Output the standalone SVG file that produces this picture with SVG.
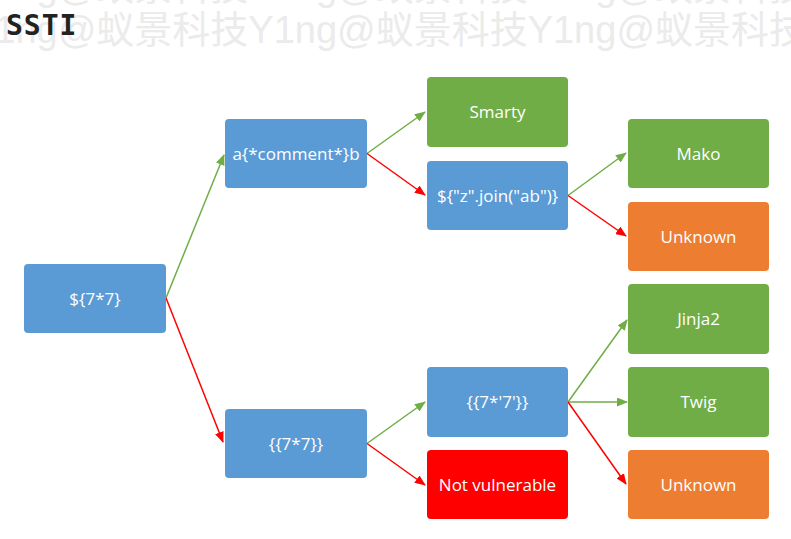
<svg xmlns="http://www.w3.org/2000/svg" width="791" height="539" viewBox="0 0 791 539">
<style>
.wm{font-family:"Liberation Sans","Noto Sans CJK SC",sans-serif;font-size:38px;fill:#ebebeb}
.title{font-family:"DejaVu Sans Mono",monospace;font-weight:bold;font-size:28px;fill:#222;letter-spacing:1px}
.box{stroke:none}
.blue{fill:#5B9BD5}
.green{fill:#70AD47}
.orange{fill:#ED7D31}
.red{fill:#FF0000}
.lbl{font-family:"Open Sans",sans-serif;font-size:17px;fill:#fff;text-anchor:middle}
.cg{stroke:#70AD47;stroke-width:1.5;fill:none;marker-end:url(#ag)}
.cr{stroke:#FF0000;stroke-width:1.5;fill:none;marker-end:url(#ar)}
</style>
<defs>
<marker id="ag" markerUnits="userSpaceOnUse" markerWidth="11" markerHeight="9" refX="10" refY="4.5" orient="auto"><path d="M0,0 L11,4.5 L0,9 z" fill="#70AD47"/></marker>
<marker id="ar" markerUnits="userSpaceOnUse" markerWidth="11" markerHeight="9" refX="10" refY="4.5" orient="auto"><path d="M0,0 L11,4.5 L0,9 z" fill="#FF0000"/></marker>
</defs>
<rect width="791" height="539" fill="#fff"/>
<g id="watermark">
<text class="wm" x="-31" y="0">Y1ng@蚁景科技Y1ng@蚁景科技Y1ng@蚁景科技</text>
<text class="wm" x="-31" y="43">Y1ng@蚁景科技Y1ng@蚁景科技Y1ng@蚁景科技</text>
</g>
<text class="title" x="6" y="35">SSTI</text>
<g id="connectors">
<line class="cg" x1="166" y1="298" x2="224" y2="155"/>
<line class="cr" x1="166" y1="298" x2="223" y2="442"/>
<line class="cg" x1="367" y1="153.5" x2="425" y2="112"/>
<line class="cr" x1="367" y1="153.5" x2="425" y2="195"/>
<line class="cg" x1="568" y1="195.5" x2="626" y2="153"/>
<line class="cr" x1="568" y1="195.5" x2="626" y2="236"/>
<line class="cg" x1="367" y1="443.5" x2="425" y2="402"/>
<line class="cr" x1="367" y1="443.5" x2="425" y2="485"/>
<line class="cg" x1="568" y1="402" x2="627" y2="320"/>
<line class="cg" x1="568" y1="402" x2="627" y2="402"/>
<line class="cr" x1="568" y1="402" x2="626" y2="484"/>
</g>
<g id="root"><rect class="box blue" x="24" y="264" width="142" height="69" rx="4"/><text class="lbl" x="95" y="304.5">${7*7}</text></g>
<g id="comment"><rect class="box blue" x="225" y="119" width="142" height="69" rx="4"/><text class="lbl" x="296" y="159.5">a{*comment*}b</text></g>
<g id="double"><rect class="box blue" x="225" y="409" width="142" height="69" rx="4"/><text class="lbl" x="296" y="449.5">{{7*7}}</text></g>
<g id="smarty"><rect class="box green" x="427" y="77" width="141" height="70" rx="4"/><text class="lbl" x="497.5" y="118">Smarty</text></g>
<g id="zjoin"><rect class="box blue" x="427" y="161" width="141" height="69" rx="4"/><text class="lbl" x="497.5" y="201.5">${"z".join("ab")}</text></g>
<g id="seven"><rect class="box blue" x="427" y="367" width="141" height="70" rx="4"/><text class="lbl" x="497.5" y="408">{{7*'7'}}</text></g>
<g id="notvuln"><rect class="box red" x="427" y="450" width="141" height="69" rx="4"/><text class="lbl" x="497.5" y="490.5">Not vulnerable</text></g>
<g id="mako"><rect class="box green" x="628" y="119" width="141" height="69" rx="4"/><text class="lbl" x="698.5" y="159.5">Mako</text></g>
<g id="unknown1"><rect class="box orange" x="628" y="202" width="141" height="69" rx="4"/><text class="lbl" x="698.5" y="242.5">Unknown</text></g>
<g id="jinja2"><rect class="box green" x="628" y="284" width="141" height="70" rx="4"/><text class="lbl" x="698.5" y="325">Jinja2</text></g>
<g id="twig"><rect class="box green" x="628" y="367" width="141" height="70" rx="4"/><text class="lbl" x="698.5" y="408">Twig</text></g>
<g id="unknown2"><rect class="box orange" x="628" y="450" width="141" height="69" rx="4"/><text class="lbl" x="698.5" y="490.5">Unknown</text></g>
</svg>
